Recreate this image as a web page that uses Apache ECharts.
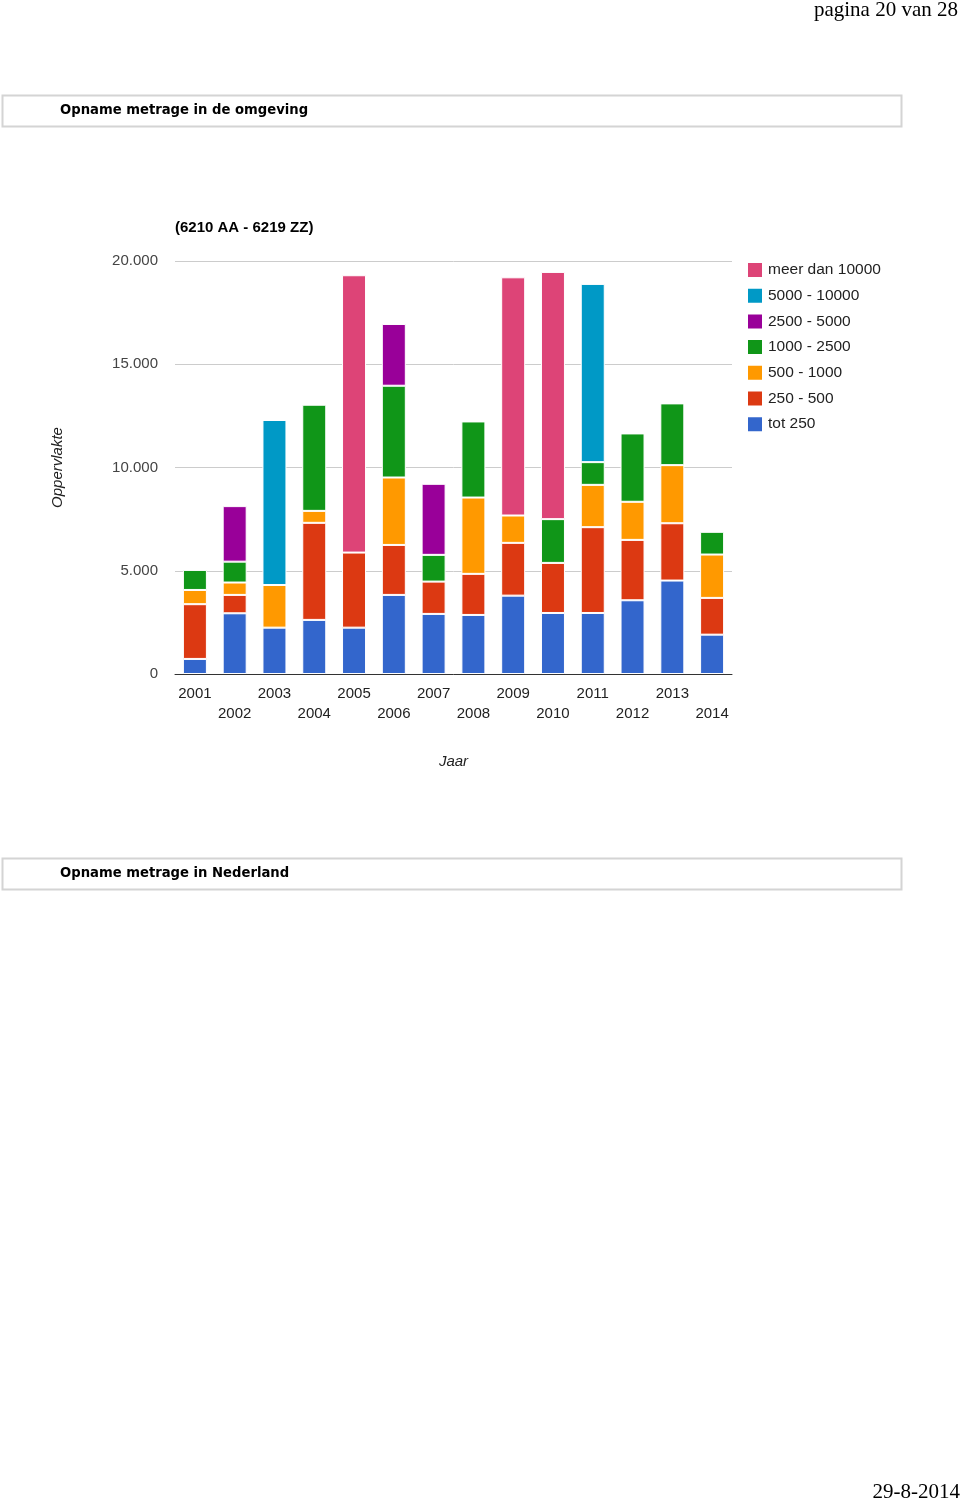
<!DOCTYPE html>
<html><head><meta charset="utf-8">
<script src="https://cdn.jsdelivr.net/npm/echarts@6/dist/echarts.min.js"></script>
<style>html,body{margin:0;padding:0;background:#fff}#c{width:960px;height:1500px}</style>
</head><body><div id="c"></div>
<script>
const years = ['2001','2002','2003','2004','2005','2006','2007','2008','2009','2010','2011','2012','2013','2014'];
const seriesNames = ['tot 250','250 - 500','500 - 1000','1000 - 2500','2500 - 5000','5000 - 10000','meer dan 10000'];
const tot250     = [730, 2940, 2245, 2620, 2245, 3830, 2910, 2860, 3795, 2955, 2955, 3570, 4525, 1905];
const s250_500   = [2650, 890, 0, 4700, 3635, 2420, 1565, 1990, 2555, 2425, 4155, 2925, 2775, 1780];
const s500_1000  = [690, 600, 2065, 580, 0, 3265, 0, 3695, 1325, 0, 2050, 1845, 2815, 2100];
const s1000_2500 = [970, 1010, 0, 5140, 0, 4445, 1295, 3685, 0, 2120, 1100, 3310, 2990, 1100];
const s2500_5000 = [0, 2690, 0, 0, 0, 2990, 3440, 0, 0, 0, 0, 0, 0, 0];
const s5000_10000= [0, 0, 7990, 0, 0, 0, 0, 0, 0, 0, 8630, 0, 0, 0];
const sMeer10000 = [0, 0, 0, 0, 13430, 0, 0, 0, 11535, 11970, 0, 0, 0, 0];
const yTicks = [0, 5000, 10000, 15000, 20000];
const colors = ['#3366cc','#dc3912','#ff9900','#109618','#990099','#0099c6','#dd4477'];
const allData = [tot250, s250_500, s500_1000, s1000_2500, s2500_5000, s5000_10000, sMeer10000];

const font = 'Liberation Sans, Arial, sans-serif';
const chart = echarts.init(document.getElementById('c'), null, {renderer:'canvas'});
chart.setOption({
  animation: false,
  color: colors,
  textStyle: {fontFamily: font},
  title: {text: '(6210 AA - 6219 ZZ)', left: 175, top: 220, padding: 0,
    textStyle: {fontFamily: font, fontSize: 15, fontWeight: 'bold', color: '#000'}},
  legend: {
    orient: 'vertical', left: 746, top: 261, padding: 0, icon: 'rect', itemWidth: 16, itemHeight: 16, itemGap: 7.7,
    data: seriesNames.slice().reverse(),
    textStyle: {fontFamily: font, fontSize: 15.5, lineHeight: 16, color: '#222', padding: [0, 0, 0, 0]}
  },
  grid: {left: 175, top: 261, width: 557, height: 413, containLabel: false},
  xAxis: {
    type: 'category', data: years,
    name: 'Jaar', nameLocation: 'middle', nameGap: 80,
    nameTextStyle: {fontFamily: font, fontSize: 15, fontStyle: 'italic', color: '#222'},
    axisLine: {lineStyle: {color: '#333', width: 1}},
    axisTick: {show: false},
    axisLabel: {interval: 0, margin: 10, fontSize: 15, color: '#222', lineHeight: 20,
      formatter: (v, i) => (i % 2 ? '\n' + v : v)}
  },
  yAxis: {
    type: 'value', min: yTicks[0], max: yTicks[yTicks.length-1], interval: 5000,
    name: 'Oppervlakte', nameLocation: 'middle', nameGap: 110, nameRotate: 90,
    nameTextStyle: {fontFamily: font, fontSize: 15, fontStyle: 'italic', color: '#222'},
    axisLine: {show: false}, axisTick: {show: false},
    axisLabel: {margin: 17, fontSize: 15, color: '#444',
      formatter: v => v.toString().replace(/\B(?=(\d{3})+(?!\d))/g, '.')},
    splitLine: {lineStyle: {color: '#ccc'}}
  },
  series: seriesNames.map((n, k) => ({
    name: n, type: 'bar', stack: 'total', barWidth: 24,
    itemStyle: {borderColor: '#fff', borderWidth: 1},
    data: allData[k].map(v => v === 0 ? '-' : v)
  })),
  graphic: [
    {type: 'text', right: 2, top: 0, style: {text: 'pagina 20 van 28', fontFamily: 'Liberation Serif, Times New Roman, serif', fontSize: 21, fill: '#000'}},
    {type: 'rect', shape: {x: 2.5, y: 95.5, width: 899, height: 31}, style: {fill: '#fff', stroke: '#d4d4d4', lineWidth: 2}},
    {type: 'text', left: 60, top: 104, style: {text: 'Opname metrage in de omgeving', fontFamily: 'DejaVu Sans, Verdana, sans-serif', fontSize: 13.2, fontWeight: 'bold', fill: '#000'}},
    {type: 'rect', shape: {x: 2.5, y: 858.5, width: 899, height: 31}, style: {fill: '#fff', stroke: '#d4d4d4', lineWidth: 2}},
    {type: 'text', left: 60, top: 867, style: {text: 'Opname metrage in Nederland', fontFamily: 'DejaVu Sans, Verdana, sans-serif', fontSize: 13.2, fontWeight: 'bold', fill: '#000'}},
    {type: 'text', right: 0, top: 1482, style: {text: '29-8-2014', fontFamily: 'Liberation Serif, Times New Roman, serif', fontSize: 21, fill: '#000'}}
  ]
});
</script></body></html>
